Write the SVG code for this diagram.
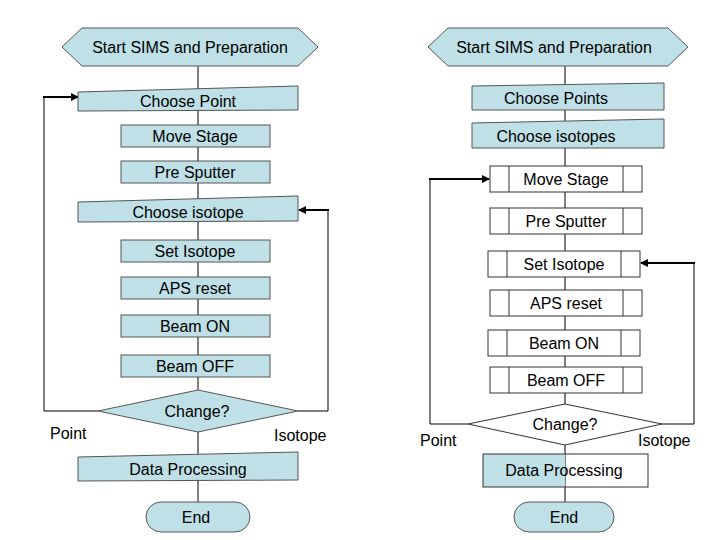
<svg xmlns="http://www.w3.org/2000/svg" width="720" height="540" viewBox="0 0 720 540">
<style>
.b{fill:#bfe0e6;stroke:#555;stroke-width:1}
.w{fill:#fff;stroke:#333;stroke-width:1}
.t{font-family:"Liberation Sans",Arial,sans-serif;font-size:16px;fill:#000;text-anchor:middle}
.l{font-family:"Liberation Sans",Arial,sans-serif;font-size:16px;fill:#000}
.c{fill:none;stroke:#000;stroke-width:1}
.a{fill:none;stroke:#000;stroke-width:2;marker-end:url(#ah)}
</style>
<defs><marker id="ah" markerWidth="8" markerHeight="8" refX="7" refY="4" orient="auto" markerUnits="userSpaceOnUse"><path d="M0,0 L8,4 L0,8 z" fill="#000"/></marker></defs>
<rect width="720" height="540" fill="#fff"/>
<g id="connectors">
<line class="c" x1="198" y1="66" x2="198" y2="502"/>
<polyline class="c" points="98,411 44,411 44,97"/>
<line class="a" x1="43" y1="97" x2="78" y2="97"/>
<polyline class="c" points="298,411 328,411 328,210"/>
<line class="a" x1="329" y1="210" x2="299" y2="210"/>
<line class="c" x1="565" y1="66" x2="565" y2="502"/>
<polyline class="c" points="468,424 430,424 430,179"/>
<line class="a" x1="429" y1="179" x2="489" y2="179"/>
<polyline class="c" points="662,424 694,424 694,263"/>
<line class="a" x1="695" y1="263" x2="641" y2="263"/>
</g>
<g id="l-start"><polygon class="b" points="62,47 82,28 298,28 318,47 298,66 82,66"/><text class="t" x="190" y="53">Start SIMS and Preparation</text></g>
<g id="l-choosepoint"><polygon class="b" points="78,92 298,86 298,110 78,111"/><text class="t" x="188" y="107">Choose Point</text></g>
<g id="l-move"><rect class="b" x="121" y="125" width="149" height="22"/><text class="t" x="195" y="142">Move Stage</text></g>
<g id="l-pre"><rect class="b" x="121" y="161" width="149" height="22"/><text class="t" x="195" y="178">Pre Sputter</text></g>
<g id="l-chooseiso"><polygon class="b" points="78,202 298,196 298,221 78,222"/><text class="t" x="188" y="218">Choose isotope</text></g>
<g id="l-set"><rect class="b" x="121" y="240" width="149" height="22"/><text class="t" x="195" y="257">Set Isotope</text></g>
<g id="l-aps"><rect class="b" x="121" y="277" width="149" height="22"/><text class="t" x="195" y="294">APS reset</text></g>
<g id="l-on"><rect class="b" x="121" y="315" width="149" height="22"/><text class="t" x="195" y="332">Beam ON</text></g>
<g id="l-off"><rect class="b" x="121" y="355" width="149" height="22"/><text class="t" x="195" y="372">Beam OFF</text></g>
<g id="l-change"><polygon class="b" points="98,411 198,390 298,411 198,432"/><text class="t" x="197" y="417">Change?</text></g>
<text class="l" x="50" y="439">Point</text>
<text class="l" x="274" y="441">Isotope</text>
<g id="l-data"><polygon class="b" points="78,457 298,452 298,480 78,481"/><text class="t" x="188" y="475">Data Processing</text></g>
<g id="l-end"><rect class="b" x="146" y="502" width="104" height="30" rx="15"/><text class="t" x="196" y="523">End</text></g>

<g id="r-start"><polygon class="b" points="428,47 448,28 668,28 688,47 668,66 448,66"/><text class="t" x="554" y="53">Start SIMS and Preparation</text></g>
<g id="r-choosepoints"><polygon class="b" points="472,86 664,83 664,110 472,110"/><text class="t" x="556" y="104">Choose Points</text></g>
<g id="r-chooseiso"><polygon class="b" points="472,123 664,119 664,148 472,148"/><text class="t" x="556" y="142">Choose isotopes</text></g>
<g id="r-move"><rect class="w" x="490" y="166" width="152" height="26"/><line class="w" x1="509" y1="166" x2="509" y2="192"/><line class="w" x1="623" y1="166" x2="623" y2="192"/><text class="t" x="566" y="185">Move Stage</text></g>
<g id="r-pre"><rect class="w" x="490" y="208" width="152" height="26"/><line class="w" x1="509" y1="208" x2="509" y2="234"/><line class="w" x1="623" y1="208" x2="623" y2="234"/><text class="t" x="566" y="227">Pre Sputter</text></g>
<g id="r-set"><rect class="w" x="488" y="251" width="152" height="26"/><line class="w" x1="507" y1="251" x2="507" y2="277"/><line class="w" x1="621" y1="251" x2="621" y2="277"/><text class="t" x="564" y="270">Set Isotope</text></g>
<g id="r-aps"><rect class="w" x="490" y="290" width="152" height="26"/><line class="w" x1="509" y1="290" x2="509" y2="316"/><line class="w" x1="623" y1="290" x2="623" y2="316"/><text class="t" x="566" y="309">APS reset</text></g>
<g id="r-on"><rect class="w" x="488" y="330" width="152" height="26"/><line class="w" x1="507" y1="330" x2="507" y2="356"/><line class="w" x1="621" y1="330" x2="621" y2="356"/><text class="t" x="564" y="349">Beam ON</text></g>
<g id="r-off"><rect class="w" x="490" y="367" width="152" height="26"/><line class="w" x1="509" y1="367" x2="509" y2="393"/><line class="w" x1="623" y1="367" x2="623" y2="393"/><text class="t" x="566" y="386">Beam OFF</text></g>
<g id="r-change"><polygon class="w" points="468,424 565,404 662,424 565,445" stroke="#555"/><text class="t" x="565" y="430">Change?</text></g>
<text class="l" x="420" y="446">Point</text>
<text class="l" x="638" y="446">Isotope</text>
<g id="r-data"><rect x="483" y="454" width="82" height="33" fill="#bfe0e6"/><rect x="483" y="454" width="165" height="33" fill="none" stroke="#333"/><text class="t" x="564" y="476">Data Processing</text></g>
<g id="r-end"><rect class="b" x="514" y="502" width="100" height="30" rx="15"/><text class="t" x="564" y="523">End</text></g>
</svg>
